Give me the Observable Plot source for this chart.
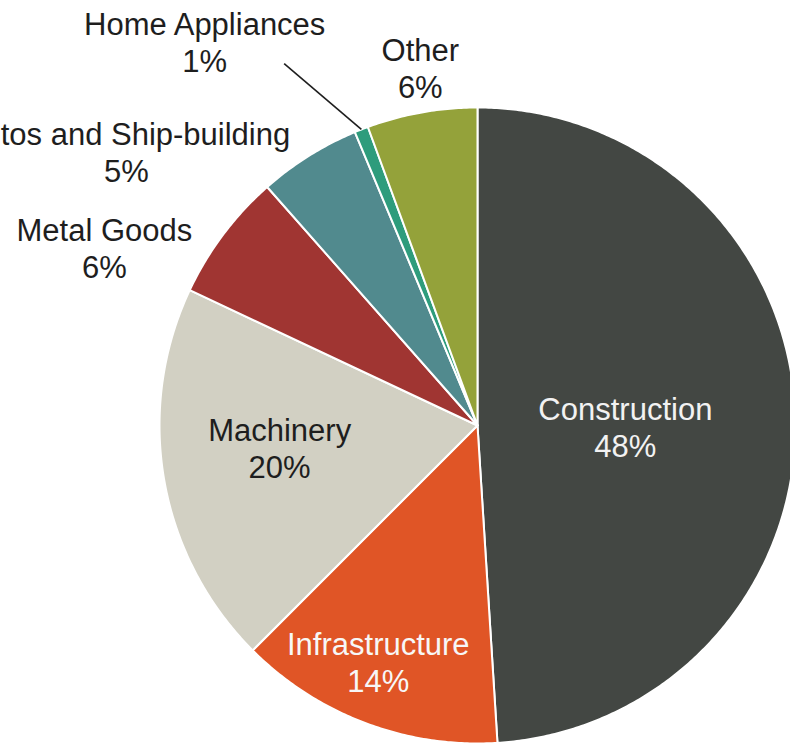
<!DOCTYPE html>
<html>
<head>
<meta charset="utf-8">
<script src="https://cdn.jsdelivr.net/npm/d3@7"></script>
<script src="https://cdn.jsdelivr.net/npm/@observablehq/plot@0.6"></script>
<style>
  html, body { margin: 0; padding: 0; background: #ffffff; overflow: hidden; }
  #chart svg { display: block; }
</style>
</head>
<body>
<div id="chart"></div>
<script>
// ---- Data ----
const categories = ["Construction", "Infrastructure", "Machinery", "Metal Goods", "Autos and Ship-building", "Home Appliances", "Other"];
const shares = [49, 13.5, 19.5, 6.5, 5.2, 0.7, 5.6];        // slice sizes estimated from angles
const pctLabels = ["48%", "14%", "20%", "6%", "5%", "1%", "6%"]; // printed labels
const colors = ["#434743", "#E05526", "#D2D0C3", "#A03532", "#518A8E", "#2E9C7C", "#94A23A"];
const labelColors = ["#f2f2f2", "#f7f7f7", "#1e1e1e", "#1e1e1e", "#1e1e1e", "#1e1e1e", "#1e1e1e"];

// label placement: radius factor (of pie radius) and angle offset (deg) from slice middle
const labelRadius = [0.465, 0.805, 0.626, 1.30, 1.40, 1.48, 1.14];
const labelAngleShift = [2.2, 2.1, 3.6, -11.4, -20, -14, 1];
const leaderFor = "Home Appliances";

// ---- Geometry ----
const W = 790, H = 744;
const R = 318;           // pie radius in px
const cx = 477, cy = 425; // pie centre in px

const pie = d3.pie().sort(null).value(d => d.value).startAngle(0).endAngle(2 * Math.PI);
const table = categories.map((c, i) => ({name: c, value: shares[i], pct: pctLabels[i], color: colors[i], tcolor: labelColors[i], lr: labelRadius[i], la: labelAngleShift[i]}));
const arcs = pie(table);

const pol = (a, r) => ({x: r * Math.sin(a), y: -r * Math.cos(a)});

const wedgePts = [];
arcs.forEach(a => {
  const name = a.data.name;
  wedgePts.push({name, ...pol(0, 0)});
  const n = Math.max(4, Math.ceil((a.endAngle - a.startAngle) / (Math.PI / 360)));
  for (let k = 0; k <= n; k++) {
    const t = a.startAngle + (a.endAngle - a.startAngle) * k / n;
    wedgePts.push({name, ...pol(t, 1)});
  }
});

const labels = arcs.map(a => {
  const mid = (a.startAngle + a.endAngle) / 2 + a.data.la * Math.PI / 180;
  const p = pol(mid, a.data.lr);
  return {name: a.data.name, text: a.data.name + "\n" + a.data.pct, color: a.data.tcolor, x: p.x, y: p.y};
});

const leader = arcs.filter(a => a.data.name === leaderFor).map(a => {
  const mid = (a.startAngle + a.endAngle) / 2;
  const p1 = pol(mid, 1.0);
  const p0 = pol(mid - 6.7 * Math.PI / 180, 1.29);
  return {x1: p0.x, y1: p0.y, x2: p1.x, y2: p1.y};
});

const chart = Plot.plot({
  width: W,
  height: H,
  margin: 0,
  style: {background: "#ffffff", fontFamily: "'Liberation Sans', Arial, sans-serif"},
  x: {domain: [-cx / R, (W - cx) / R], range: [0, W], axis: null},
  y: {domain: [-cy / R, (H - cy) / R], range: [0, H], axis: null},
  color: {domain: categories, range: colors},
  marks: [
    Plot.line(wedgePts, {x: "x", y: "y", z: "name", fill: "name", stroke: "#ffffff", strokeWidth: 2, curve: "linear-closed", strokeLinejoin: "round"}),
    Plot.link(leader, {x1: "x1", y1: "y1", x2: "x2", y2: "y2", stroke: "#1e1e1e", strokeWidth: 1.6}),
    Plot.text(labels, {x: "x", y: "y", text: "text", fill: d => d.color, fontSize: 31, lineHeight: 1.2, lineAnchor: "middle", textAnchor: "middle"})
  ]
});

document.getElementById("chart").appendChild(chart);
</script>
</body>
</html>
